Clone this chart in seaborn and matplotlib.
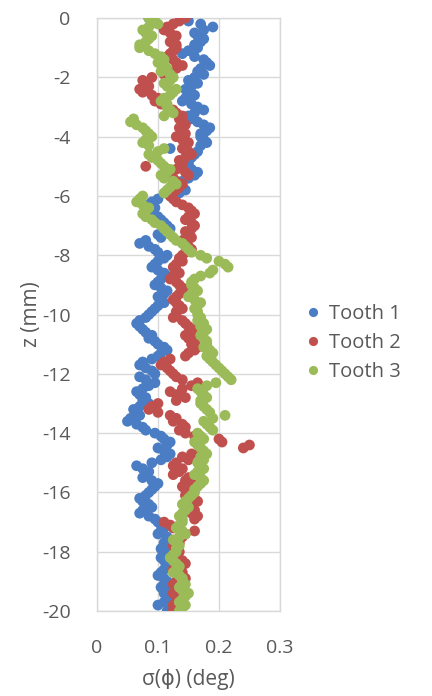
import numpy as np
import pandas as pd
import matplotlib
matplotlib.use("Agg")
import matplotlib.pyplot as plt
import seaborn as sns
from matplotlib.ticker import FuncFormatter

# depth positions (mm), 0.1 mm step from the surface down to -20 mm
z = np.round(np.arange(0, -20.001, -0.1), 1)

# sigma(phi) in degrees, one row per millimetre of depth
tooth1 = [
    0.085, 0.15, 0.17, 0.19, 0.175, 0.16, 0.165, 0.175, 0.17, 0.16,
    0.165, 0.15, 0.14, 0.16, 0.175, 0.18, 0.185, 0.17, 0.165, 0.175,
    0.16, 0.15, 0.165, 0.155, 0.145, 0.15, 0.16, 0.145, 0.14, 0.155,
    0.165, 0.175, 0.16, 0.15, 0.155, 0.165, 0.175, 0.185, 0.18, 0.17,
    0.17, 0.175, 0.18, 0.17, 0.12, 0.165, 0.16, 0.155, 0.145, 0.15,
    0.14, 0.155, 0.165, 0.16, 0.15, 0.14, 0.135, 0.13, 0.145, 0.135,
    0.12, 0.1, 0.09, 0.085, 0.095, 0.08, 0.09, 0.1, 0.105, 0.11,
    0.115, 0.12, 0.11, 0.1, 0.105, 0.08, 0.07, 0.085, 0.095, 0.1,
    0.115, 0.11, 0.1, 0.095, 0.09, 0.1, 0.11, 0.115, 0.105, 0.1,
    0.095, 0.105, 0.115, 0.11, 0.1, 0.105, 0.11, 0.1, 0.095, 0.09,
    0.085, 0.08, 0.07, 0.065, 0.07, 0.075, 0.08, 0.09, 0.085, 0.095,
    0.1, 0.11, 0.115, 0.105, 0.1, 0.09, 0.075, 0.07, 0.08, 0.09,
    0.095, 0.07, 0.08, 0.095, 0.085, 0.075, 0.065, 0.07, 0.08, 0.075,
    0.085, 0.07, 0.06, 0.065, 0.07, 0.055, 0.05, 0.065, 0.075, 0.08,
    0.095, 0.105, 0.11, 0.12, 0.115, 0.1, 0.11, 0.12, 0.115, 0.105,
    0.09, 0.065, 0.075, 0.085, 0.08, 0.075, 0.09, 0.1, 0.095, 0.09,
    0.085, 0.08, 0.07, 0.075, 0.085, 0.09, 0.075, 0.07, 0.085, 0.095,
    0.1, 0.105, 0.11, 0.105, 0.1, 0.115, 0.12, 0.11, 0.115, 0.105,
    0.11, 0.115, 0.105, 0.11, 0.115, 0.12, 0.11, 0.105, 0.1, 0.11,
    0.115, 0.11, 0.105, 0.115, 0.11, 0.12, 0.115, 0.11, 0.1, 0.12,
    0.115,
]

tooth2 = [
    0.145, 0.135, 0.125, 0.115, 0.11, 0.12, 0.13, 0.125, 0.12, 0.13,
    0.13, 0.125, 0.12, 0.115, 0.125, 0.13, 0.14, 0.13, 0.12, 0.11,
    0.09, 0.075, 0.08, 0.085, 0.07, 0.075, 0.09, 0.1, 0.095, 0.105,
    0.115, 0.125, 0.13, 0.14, 0.135, 0.14, 0.145, 0.135, 0.14, 0.145,
    0.13, 0.14, 0.15, 0.145, 0.14, 0.15, 0.155, 0.145, 0.135, 0.14,
    0.08, 0.13, 0.145, 0.15, 0.125, 0.13, 0.14, 0.135, 0.13, 0.125,
    0.12, 0.125, 0.13, 0.14, 0.15, 0.155, 0.16, 0.15, 0.145, 0.155,
    0.16, 0.155, 0.145, 0.15, 0.155, 0.14, 0.145, 0.15, 0.155, 0.145,
    0.14, 0.135, 0.14, 0.13, 0.125, 0.13, 0.135, 0.125, 0.12, 0.13,
    0.135, 0.14, 0.145, 0.135, 0.13, 0.125, 0.13, 0.135, 0.14, 0.13,
    0.13, 0.125, 0.14, 0.145, 0.15, 0.16, 0.155, 0.145, 0.15, 0.16,
    0.155, 0.165, 0.16, 0.15, 0.145, 0.12, 0.11, 0.105, 0.115, 0.12,
    0.125, 0.13, 0.14, 0.165, 0.155, 0.14, 0.12, 0.13, 0.145, 0.13,
    0.1, 0.09, 0.085, 0.1, 0.12, 0.13, 0.125, 0.14, 0.145, 0.135,
    0.145, 0.16, 0.2, 0.205, 0.25, 0.24, 0.17, 0.155, 0.14, 0.15,
    0.13, 0.125, 0.14, 0.135, 0.125, 0.15, 0.145, 0.155, 0.14, 0.145,
    0.15, 0.145, 0.16, 0.165, 0.155, 0.15, 0.16, 0.155, 0.165, 0.16,
    0.11, 0.12, 0.125, 0.16, 0.145, 0.14, 0.13, 0.135, 0.125, 0.13,
    0.135, 0.125, 0.13, 0.14, 0.145, 0.13, 0.125, 0.14, 0.135, 0.145,
    0.13, 0.125, 0.14, 0.135, 0.125, 0.13, 0.14, 0.135, 0.125, 0.13,
    0.125,
]

tooth3 = [
    0.085, 0.095, 0.1, 0.085, 0.075, 0.08, 0.09, 0.085, 0.08, 0.07,
    0.07, 0.085, 0.095, 0.105, 0.11, 0.1, 0.11, 0.115, 0.105, 0.12,
    0.125, 0.12, 0.11, 0.115, 0.13, 0.125, 0.12, 0.11, 0.105, 0.115,
    0.115, 0.12, 0.125, 0.11, 0.06, 0.055, 0.065, 0.075, 0.08, 0.085,
    0.09, 0.08, 0.075, 0.085, 0.11, 0.1, 0.085, 0.09, 0.1, 0.105,
    0.11, 0.12, 0.115, 0.105, 0.11, 0.125, 0.13, 0.12, 0.115, 0.11,
    0.075, 0.07, 0.065, 0.075, 0.085, 0.08, 0.075, 0.08, 0.09, 0.095,
    0.105, 0.11, 0.115, 0.12, 0.125, 0.13, 0.14, 0.145, 0.15, 0.155,
    0.17, 0.18, 0.2, 0.21, 0.215, 0.19, 0.185, 0.17, 0.16, 0.155,
    0.155, 0.16, 0.165, 0.155, 0.15, 0.16, 0.17, 0.165, 0.16, 0.165,
    0.165, 0.17, 0.165, 0.175, 0.17, 0.18, 0.175, 0.17, 0.175, 0.18,
    0.18, 0.175, 0.185, 0.19, 0.18, 0.185, 0.19, 0.195, 0.2, 0.205,
    0.21, 0.215, 0.22, 0.195, 0.18, 0.165, 0.17, 0.175, 0.18, 0.17,
    0.17, 0.175, 0.18, 0.185, 0.21, 0.19, 0.175, 0.18, 0.185, 0.19,
    0.165, 0.17, 0.175, 0.16, 0.165, 0.17, 0.175, 0.18, 0.17, 0.175,
    0.165, 0.17, 0.175, 0.165, 0.16, 0.17, 0.175, 0.17, 0.165, 0.16,
    0.16, 0.155, 0.15, 0.145, 0.14, 0.15, 0.145, 0.14, 0.135, 0.14,
    0.14, 0.135, 0.13, 0.14, 0.145, 0.135, 0.125, 0.13, 0.135, 0.13,
    0.13, 0.125, 0.12, 0.125, 0.13, 0.135, 0.13, 0.125, 0.135, 0.14,
    0.14, 0.145, 0.135, 0.14, 0.15, 0.145, 0.14, 0.135, 0.145, 0.14,
    0.135,
]

series_names = ["Tooth 1", "Tooth 2", "Tooth 3"]
series_colors = ["#4A7DC4", "#C0504D", "#9BBB59"]
x_ticks = [0, 0.1, 0.2, 0.3]
y_ticks = list(range(0, -21, -2))

df = pd.concat(
    [pd.DataFrame({"sigma": v, "z": z, "tooth": n})
     for v, n in zip([tooth1, tooth2, tooth3], series_names)],
    ignore_index=True,
)

sns.set_style("white")
plt.rcParams["font.family"] = ["Open Sans", "DejaVu Sans"]

fig = plt.figure(figsize=(4.32, 6.96), dpi=100)
ax = fig.add_axes([0.2245, 0.1221, 0.4235, 0.8519])

sns.scatterplot(
    data=df, x="sigma", y="z", hue="tooth",
    palette=dict(zip(series_names, series_colors)),
    s=60, linewidth=0, alpha=1.0, ax=ax, zorder=3,
)

grid_c = "#D9D9D9"
text_c = "#595959"
ax.set_xlim(0, 0.3)
ax.set_ylim(-20, 0)
ax.set_xticks(x_ticks)
ax.set_yticks(y_ticks)
ax.xaxis.set_major_formatter(FuncFormatter(lambda v, p: f"{v:g}"))
ax.yaxis.set_major_formatter(FuncFormatter(lambda v, p: f"{int(round(v))}"))
ax.grid(True, color=grid_c, linewidth=1.0, zorder=0)
ax.set_axisbelow(True)
for sp in ax.spines.values():
    sp.set_color(grid_c)
    sp.set_linewidth(1.0)
ax.tick_params(axis="both", length=0, labelsize=14, colors=text_c)
ax.tick_params(axis="y", pad=19)
ax.tick_params(axis="x", pad=20)

ax.set_xlabel("σ(ϕ) (deg)", fontsize=15, color=text_c)
ax.set_ylabel("z (mm)", fontsize=15, color=text_c)
ax.xaxis.set_label_coords(0.5, -0.098)
ax.yaxis.set_label_coords(-0.3, 0.5)

leg = ax.legend(
    loc="center left", bbox_to_anchor=(1.01, 0.452), frameon=False,
    fontsize=14.5, handletextpad=0.15, labelspacing=0.45, markerscale=0.85,
    handlelength=1.3,
)
for t in leg.get_texts():
    t.set_color(text_c)

fig.savefig("out.png", dpi=100)
